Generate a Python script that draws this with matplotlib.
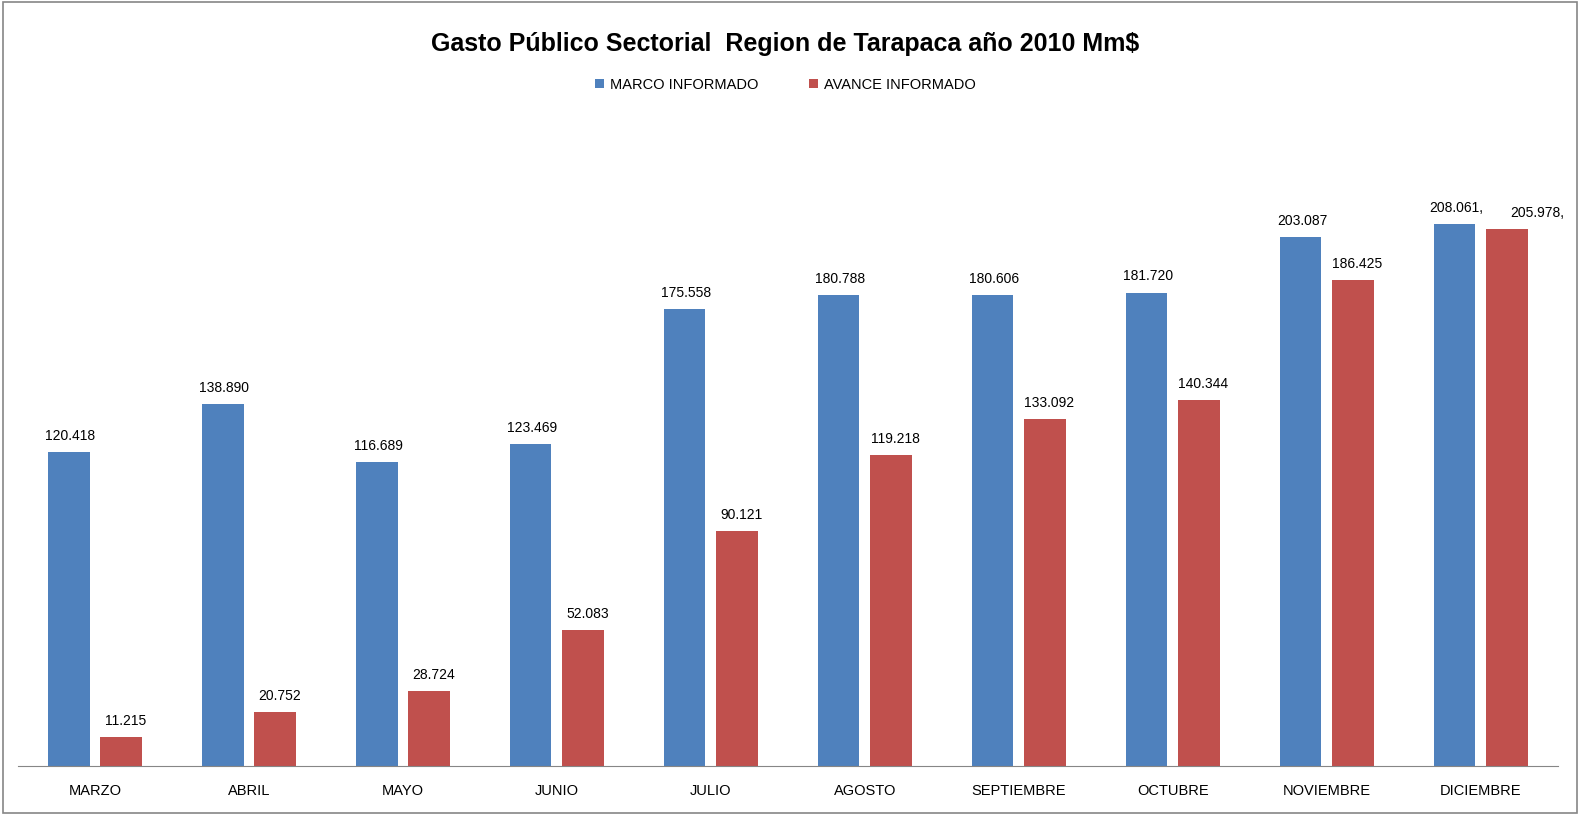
import numpy as np
import matplotlib
matplotlib.use("Agg")
import matplotlib.pyplot as plt
from matplotlib.patches import Rectangle

meses = ["MARZO", "ABRIL", "MAYO", "JUNIO", "JULIO", "AGOSTO",
         "SEPTIEMBRE", "OCTUBRE", "NOVIEMBRE", "DICIEMBRE"]
marco = [120.418, 138.890, 116.689, 123.469, 175.558, 180.788,
         180.606, 181.720, 203.087, 208.061]
avance = [11.215, 20.752, 28.724, 52.083, 90.121, 119.218,
          133.092, 140.344, 186.425, 205.978]

azul = "#4F81BD"
rojo = "#C0504D"

plt.rcParams['font.family'] = ['Liberation Sans', 'DejaVu Sans']

fig = plt.figure(figsize=(15.8, 8.15), dpi=100)
ax = fig.add_axes([0.0114, 0.0601, 0.9744, 0.78])

x = np.arange(len(meses))
w = 0.27
off = 0.17
ax.bar(x - off, marco, w, color=azul, label="MARCO INFORMADO")
ax.bar(x + off, avance, w, color=rojo, label="AVANCE INFORMADO")

# etiquetas de datos
for i, v in enumerate(marco):
    txt = f"{v:.3f}"
    dx = 0.01
    if i == len(marco) - 1:
        txt += ","
    ax.text(x[i] - off + dx, v + 3.5, txt, ha="center", va="bottom", fontsize=10)
for i, v in enumerate(avance):
    txt = f"{v:.3f}"
    dx = 0.03
    if i == len(avance) - 1:
        txt += ","
        dx = 0.2
    ax.text(x[i] + off + dx, v + 3.5, txt, ha="center", va="bottom", fontsize=10)

ax.set_xlim(-0.5, len(meses) - 0.5)
ax.set_ylim(0, 244)
ax.set_xticks(x)
ax.set_xticklabels(meses, fontsize=10.5)
ax.tick_params(axis="x", length=0, pad=13)
ax.set_yticks([])
for s in ["top", "right", "left"]:
    ax.spines[s].set_visible(False)
ax.spines["bottom"].set_color("#868686")

fig.text(0.497, 0.946, "Gasto Público Sectorial  Region de Tarapaca año 2010 Mm$",
         ha="center", va="center", fontsize=18, fontweight="bold")
fig.legend(loc="center", bbox_to_anchor=(0.497, 0.896), ncol=2, frameon=False,
           fontsize=10.5, handlelength=0.6, handleheight=0.6, columnspacing=3.5,
           handletextpad=0.4)

fig.patches.append(Rectangle((0.002, 0.003), 0.996, 0.994, transform=fig.transFigure,
                             fill=False, edgecolor="#868686", linewidth=1.2))

fig.savefig("out.png", dpi=100)
